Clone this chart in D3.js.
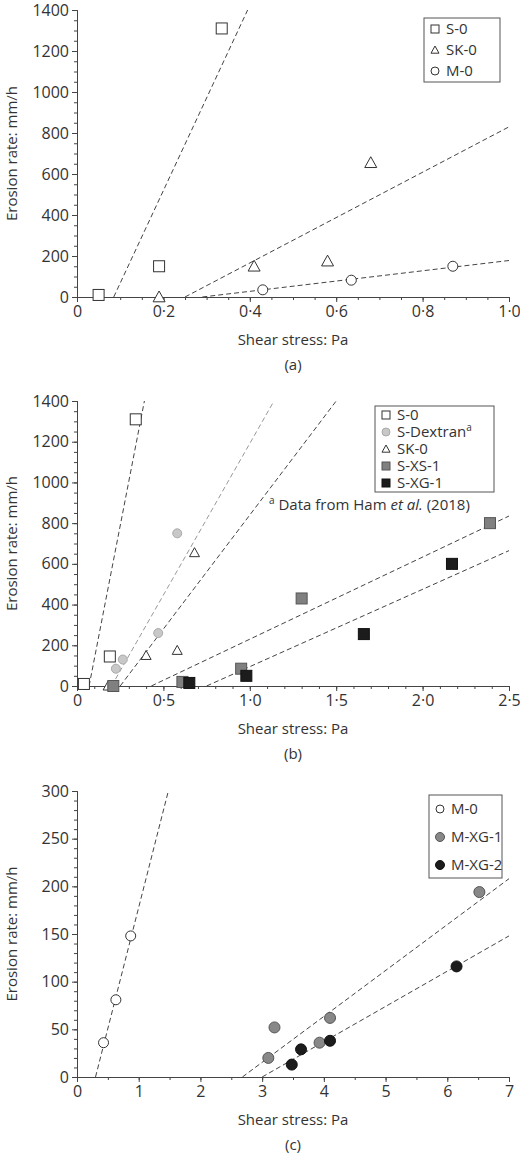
<!DOCTYPE html>
<html><head><meta charset="utf-8">
<script src="https://cdn.jsdelivr.net/npm/d3@7"></script>
<style>body{margin:0;background:#fff}text{font-family:"Open Sans","DejaVu Sans",sans-serif;fill:#333}</style>
</head><body>
<svg id="c" width="520" height="1160"></svg>
<script>
// panel (a)
const aS0 = [[0.05,10],[0.19,150],[0.335,1310]];
const aSK0 = [[0.19,0],[0.41,150],[0.58,175],[0.68,655]];
const aM0 = [[0.43,35],[0.635,82],[0.87,150]];
const aFits = [[[0.085,0],[0.395,1400]],[[0.25,0],[1.0,830]],[[0.29,0],[1.0,178]]];
// panel (b)
const bS0 = [[0.04,10],[0.19,145],[0.34,1310]];
const bDex = [[0.2,0],[0.225,85],[0.265,130],[0.47,260],[0.58,750]];
const bSK0 = [[0.18,0],[0.4,150],[0.58,175],[0.68,655]];
const bXS1 = [[0.21,0],[0.61,20],[0.95,85],[1.3,430],[2.39,800]];
const bXG1 = [[0.65,15],[0.98,50],[1.66,255],[2.17,600]];
const bFits = [[[0.07,0],[0.39,1400],"#444"],[[0.2,0],[1.14,1400],"#999"],[[0.25,0],[1.5,1400],"#444"],[[0.43,0],[2.5,835],"#444"],[[0.75,0],[2.5,665],"#444"]];
// panel (c)
const cM0 = [[0.43,36],[0.63,81],[0.87,148]];
const cXG1 = [[3.1,20],[3.2,52],[3.93,36],[4.1,62],[6.52,194]];
const cXG2 = [[3.48,13],[3.63,29],[4.1,38],[6.15,116]];
const cFits = [[[0.3,0],[1.48,300]],[[2.68,0],[7,208]],[[3.0,0],[7,148]]];

const svg = d3.select("#c");
const fmt = d => d3.format(".1f")(d).replace(".", "·");

function panel(o) {
    const g = svg.append("g");
    const x = d3.scaleLinear().domain(o.xd).range([77, 509]);
    const y = d3.scaleLinear().domain(o.yd).range([o.y0, o.y1]);
    g.append("g").attr("transform", `translate(0,${o.y0})`)
        .call(d3.axisBottom(x).tickValues(o.xt).tickFormat(o.xf).tickSize(5).tickPadding(4));
    g.append("g").attr("transform", `translate(0,${o.y0})`)
        .call(d3.axisBottom(x).tickValues(d3.range(o.xd[0], o.xd[1] + 1e-9, o.xm)).tickFormat("").tickSize(3));
    g.append("g").attr("transform", "translate(77,0)")
        .call(d3.axisLeft(y).tickValues(o.yt).tickFormat(d3.format("d")).tickSize(5).tickPadding(3));
    g.append("g").attr("transform", "translate(77,0)")
        .call(d3.axisLeft(y).tickValues(d3.range(o.yd[0], o.yd[1] + 1e-9, o.ym)).tickFormat("").tickSize(3));
    g.selectAll(".domain,.tick line").attr("stroke", "#444");
    g.selectAll(".tick text").style("font-size", "16px").attr("fill", "#333")
        .style("font-family", "Open Sans, DejaVu Sans, sans-serif");
    g.append("text").attr("x", 293).attr("y", o.y0 + 48).attr("text-anchor", "middle")
        .style("font-size", "15px").text("Shear stress: Pa");
    g.append("text").attr("x", 293).attr("y", o.y0 + 73).attr("text-anchor", "middle")
        .style("font-size", "15px").text(o.label);
    g.append("text").attr("transform", `translate(17,${(o.y0 + o.y1) / 2})rotate(-90)`)
        .attr("text-anchor", "middle").style("font-size", "15px").text("Erosion rate: mm/h");
    o.fits.forEach(f => g.append("line")
        .attr("x1", x(f[0][0])).attr("y1", y(f[0][1])).attr("x2", x(f[1][0])).attr("y2", y(f[1][1]))
        .attr("stroke", f[2] || "#444").attr("stroke-width", 1).attr("stroke-dasharray", "5,3"));
    o.series.forEach(s => {
        s.data.forEach(d => drawMark(g, s, x(d[0]), y(d[1])));
    });
    const L = o.legend;
    g.append("rect").attr("x", L.x).attr("y", L.y).attr("width", L.w).attr("height", L.h)
        .attr("fill", "#fff").attr("stroke", "#555");
    o.series.forEach((s, i) => {
        const yy = L.y + L.top + i * L.dy;
        drawMark(g, Object.assign({}, s, {r: s.lr}), L.x + 11, yy);
        const t = g.append("text").attr("x", L.x + 22).attr("y", yy + 5).style("font-size", "15px").text(s.name);
        if (s.sup) t.append("tspan").attr("dy", -6).style("font-size", "10px").text(s.sup);
    });
    return g;
}

function drawMark(g, s, cx, cy) {
    const r = s.r;
    if (s.shape === "square") {
        g.append("rect").attr("x", cx - r).attr("y", cy - r).attr("width", 2 * r).attr("height", 2 * r)
            .attr("fill", s.fill).attr("stroke", s.stroke || "#333").attr("stroke-width", 1);
    } else if (s.shape === "tri") {
        g.append("path").attr("d", `M${cx},${cy - r}L${cx + r},${cy + r * 0.8}L${cx - r},${cy + r * 0.8}Z`)
            .attr("fill", s.fill).attr("stroke", "#333");
    } else {
        g.append("circle").attr("cx", cx).attr("cy", cy).attr("r", r)
            .attr("fill", s.fill).attr("stroke", s.stroke || "#333");
    }
}

panel({
    xd: [0, 1], yd: [0, 1400], y0: 297, y1: 10, xt: [0, 0.2, 0.4, 0.6, 0.8, 1],
    xf: d => d === 0 ? "0" : fmt(d), xm: 0.05, yt: d3.range(0, 1401, 200), ym: 50, label: "(a)",
    fits: aFits,
    series: [
        {name: "S-0", data: aS0, shape: "square", fill: "#fff", r: 5.5, lr: 4},
        {name: "SK-0", data: aSK0, shape: "tri", fill: "#fff", r: 6, lr: 4},
        {name: "M-0", data: aM0, shape: "circle", fill: "#fff", r: 5, lr: 4}
    ],
    legend: {x: 424, y: 18, w: 76, h: 64, dy: 21, top: 11}
});

const gb = panel({
    xd: [0, 2.5], yd: [0, 1400], y0: 686, y1: 401, xt: [0, 0.5, 1, 1.5, 2, 2.5],
    xf: d => d === 0 ? "0" : fmt(d), xm: 0.1, yt: d3.range(0, 1401, 200), ym: 50, label: "(b)",
    fits: bFits,
    series: [
        {name: "S-0", data: bS0, shape: "square", fill: "#fff", r: 5.5, lr: 4},
        {name: "S-Dextran", sup: "a", data: bDex, shape: "circle", fill: "#c8c8c8", stroke: "#aaa", r: 4.5, lr: 4},
        {name: "SK-0", data: bSK0, shape: "tri", fill: "#fff", r: 5, lr: 4},
        {name: "S-XS-1", data: bXS1, shape: "square", fill: "#808080", stroke: "#555", r: 5.5, lr: 4},
        {name: "S-XG-1", data: bXG1, shape: "square", fill: "#1c1c1c", stroke: "#111", r: 5.5, lr: 4}
    ],
    legend: {x: 375, y: 406, w: 119, h: 86, dy: 17, top: 9}
});
const fn = gb.append("text").attr("x", 269).attr("y", 510).style("font-size", "15px");
fn.append("tspan").attr("dy", -6).style("font-size", "10px").text("a");
fn.append("tspan").attr("dy", 6).text(" Data from Ham ");
fn.append("tspan").style("font-style", "italic").text("et al.");
fn.append("tspan").text(" (2018)");

panel({
    xd: [0, 7], yd: [0, 300], y0: 1077, y1: 791, xt: d3.range(0, 8),
    xf: d3.format("d"), xm: 0.5, yt: d3.range(0, 301, 50), ym: 10, label: "(c)",
    fits: cFits,
    series: [
        {name: "M-0", data: cM0, shape: "circle", fill: "#fff", r: 5, lr: 4},
        {name: "M-XG-1", data: cXG1, shape: "circle", fill: "#888", stroke: "#555", r: 5.5, lr: 4.5},
        {name: "M-XG-2", data: cXG2, shape: "circle", fill: "#1c1c1c", stroke: "#111", r: 5.5, lr: 4.5}
    ],
    legend: {x: 429, y: 795, w: 73, h: 83, dy: 28, top: 14}
});
</script>
</body></html>
